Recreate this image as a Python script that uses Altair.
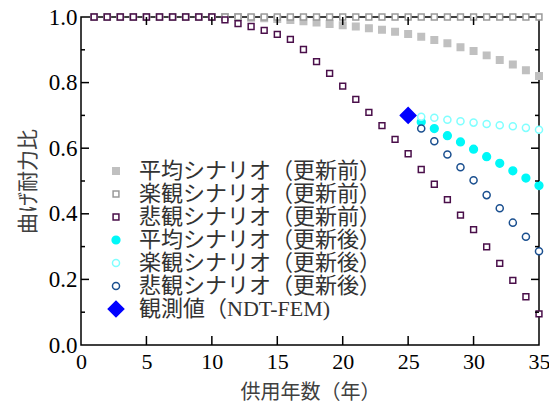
import altair as alt
import pandas as pd

years_pre = [1, 2, 3, 4, 5, 6, 7, 8, 9, 10, 11, 12, 13, 14, 15, 16, 17, 18,
             19, 20, 21, 22, 23, 24, 25, 26, 27, 28, 29, 30, 31, 32, 33, 34, 35]
avg_pre = [1.0, 1.0, 1.0, 1.0, 1.0, 1.0, 1.0, 1.0, 1.0, 1.0, 1.0, 1.0, 0.998,
           0.996, 0.994, 0.991, 0.987, 0.983, 0.979, 0.975, 0.971, 0.966, 0.961,
           0.955, 0.948, 0.940, 0.930, 0.920, 0.908, 0.896, 0.883, 0.869, 0.855,
           0.838, 0.820]
opt_pre = [1.0] * 35
pess_pre = [1.0, 1.0, 1.0, 1.0, 1.0, 1.0, 1.0, 1.0, 1.0, 1.0, 0.991, 0.980,
            0.971, 0.959, 0.947, 0.932, 0.901, 0.864, 0.828, 0.789, 0.749, 0.709,
            0.669, 0.627, 0.583, 0.535, 0.490, 0.443, 0.396, 0.352, 0.299, 0.249,
            0.197, 0.147, 0.095]
years_post = [26, 27, 28, 29, 30, 31, 32, 33, 34, 35]
avg_post = [0.680, 0.660, 0.638, 0.619, 0.597, 0.574, 0.554, 0.531, 0.509, 0.486]
opt_post = [0.696, 0.693, 0.687, 0.682, 0.678, 0.674, 0.670, 0.667, 0.662, 0.656]
pess_post = [0.660, 0.621, 0.581, 0.542, 0.502, 0.457, 0.417, 0.373, 0.330, 0.286]
obs_year = [25]
obs_val = [0.70]

labels = ["平均シナリオ（更新前）", "楽観シナリオ（更新前）", "悲観シナリオ（更新前）",
          "平均シナリオ（更新後）", "楽観シナリオ（更新後）", "悲観シナリオ（更新後）",
          "観測値（NDT-FEM)"]
shapes = ["square", "square", "square", "circle", "circle", "circle", "diamond"]
strokes = ["#c0c0c0", "#9a9a9a", "#4a0f4a", "#00f8f8", "#80ffff", "#1a4f8f", "#0000ff"]
fills = ["#c0c0c0", "#ffffff", "#ffffff", "#00f8f8", "#ffffff", "#ffffff", "#0000ff"]
sizes = [42, 34, 34, 60, 50, 50, 240]

x_ticks = [0, 5, 10, 15, 20, 25, 30, 35]
y_ticks = [0.0, 0.2, 0.4, 0.6, 0.8, 1.0]
y_minor = [0.1, 0.3, 0.5, 0.7, 0.9]

series = [
    (labels[0], years_pre, avg_pre),
    (labels[1], years_pre, opt_pre),
    (labels[2], years_pre, pess_pre),
    (labels[3], years_post, avg_post),
    (labels[4], years_post, opt_post),
    (labels[5], years_post, pess_post),
    (labels[6], obs_year, obs_val),
]
rows = []
for name, xs, ys in series:
    for x, y in zip(xs, ys):
        rows.append({"series": name, "year": x, "ratio": y})
df = pd.DataFrame(rows)

FONT = "Liberation Serif, Noto Sans CJK JP"
W, H = 458, 328

xscale = alt.Scale(domain=[0, 35], nice=False, zero=False)
yscale = alt.Scale(domain=[0, 1], nice=False, zero=False)

points = alt.Chart(df).mark_point(strokeWidth=1.5, opacity=1).encode(
    x=alt.X("year:Q", scale=xscale,
            axis=alt.Axis(values=x_ticks, title="供用年数（年）", ticks=False,
                          domain=False, grid=False, labelPadding=6, labelFlush=False,
                          labelFontSize=22, labelFont=FONT, labelColor="black",
                          titleFont=FONT, titleFontSize=20, titleFontWeight="normal",
                          titleColor="#404040", titlePadding=10)),
    y=alt.Y("ratio:Q", scale=yscale,
            axis=alt.Axis(values=y_ticks, format=".1f", title="曲げ耐力比", ticks=False,
                          domain=False, grid=False, labelPadding=4, labelFlush=False,
                          labelFontSize=23, labelFont=FONT, labelColor="black",
                          titleFont=FONT, titleFontSize=21, titleFontWeight="normal",
                          titleColor="#404040", titlePadding=10)),
    shape=alt.Shape("series:N", scale=alt.Scale(domain=labels, range=shapes), legend=alt.Legend(title=None)),
    stroke=alt.Stroke("series:N", scale=alt.Scale(domain=labels, range=strokes), legend=alt.Legend(title=None)),
    fill=alt.Fill("series:N", scale=alt.Scale(domain=labels, range=fills), legend=alt.Legend(title=None)),
    size=alt.Size("series:N", scale=alt.Scale(type="ordinal", domain=labels, range=sizes), legend=alt.Legend(title=None)),
)

xt = pd.DataFrame({"v": x_ticks[1:-1]})
yt = pd.DataFrame({"v": y_ticks[1:-1]})
ym = pd.DataFrame({"v": y_minor})

rule = dict(color="black", strokeWidth=1.5)
x_bottom = alt.Chart(xt).mark_rule(**rule).encode(
    x=alt.X("v:Q", scale=xscale), y=alt.value(H), y2=alt.value(H - 9))
x_top = alt.Chart(xt).mark_rule(**rule).encode(
    x=alt.X("v:Q", scale=xscale), y=alt.value(0), y2=alt.value(8))
y_left = alt.Chart(yt).mark_rule(**rule).encode(
    y=alt.Y("v:Q", scale=yscale), x=alt.value(0), x2=alt.value(8))
y_left_m = alt.Chart(ym).mark_rule(**rule).encode(
    y=alt.Y("v:Q", scale=yscale), x=alt.value(0), x2=alt.value(4))
y_right = alt.Chart(yt).mark_rule(**rule).encode(
    y=alt.Y("v:Q", scale=yscale), x=alt.value(W), x2=alt.value(W - 8))
y_right_m = alt.Chart(ym).mark_rule(**rule).encode(
    y=alt.Y("v:Q", scale=yscale), x=alt.value(W), x2=alt.value(W - 4))

chart = alt.layer(points, x_bottom, x_top, y_left, y_left_m, y_right, y_right_m).properties(
    width=W, height=H,
    background="white",
    autosize=alt.AutoSizeParams(type="none"),
    padding={"left": 73, "top": 9, "right": 10, "bottom": 56},
).configure_view(
    stroke="black", strokeWidth=1.5
).configure_legend(
    orient="none", legendX=24, legendY=143,
    labelFont=FONT, labelFontSize=22, labelColor="#333333",
    rowPadding=1, labelOffset=12, symbolStrokeWidth=1.5,
    labelLimit=400,
)

chart.save("out.html", embed_options={"renderer": "svg", "actions": False})
